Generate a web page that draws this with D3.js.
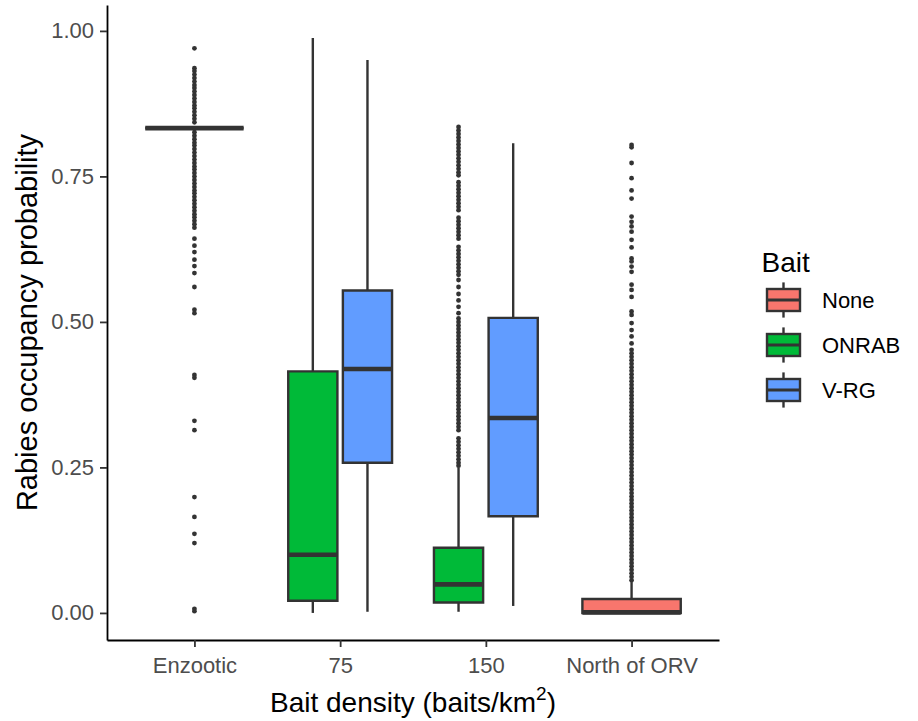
<!DOCTYPE html>
<html>
<head>
<meta charset="utf-8">
<script src="https://cdn.jsdelivr.net/npm/d3@7"></script>
<style>
  body { margin: 0; background: #fff; }
  svg { display: block; font-family: "Liberation Sans", Arial, sans-serif; }
</style>
</head>
<body>
<svg id="chart" width="918" height="721"></svg>
<script>
const categories = ['Enzootic', '75', '150', 'North of ORV'];
const baitLevels = ['None', 'ONRAB', 'V-RG'];
const baitColors = ['#F8766D', '#00BA38', '#619CFF'];
const yTicks = [0, 0.25, 0.5, 0.75, 1];

// one entry per box
const boxCategory = ['Enzootic', '75', '75', '150', '150', 'North of ORV'];
const boxBait = ['None', 'ONRAB', 'V-RG', 'ONRAB', 'V-RG', 'None'];
const whiskerLow = [0.833, 0.000, 0.002, 0.002, 0.012, 0.000];
const lowerQuartile = [0.833, 0.021, 0.258, 0.018, 0.166, 0.000];
const medianValue = [0.833, 0.100, 0.419, 0.049, 0.335, 0.001];
const upperQuartile = [0.833, 0.415, 0.554, 0.112, 0.507, 0.024];
const whiskerHigh = [0.833, 0.988, 0.950, 0.250, 0.807, 0.053];

// outliers (dense runs are where the dots merge)
const enzooticOutliers = [0.970, 0.936, 0.931, 0.925, 0.919, 0.913, 0.907, 0.902, 0.896, 0.890,
  0.884, 0.878, 0.872, 0.867, 0.861, 0.855, 0.849, 0.843,
  0.826, 0.820, 0.814, 0.808, 0.803, 0.797, 0.791, 0.785, 0.779, 0.773, 0.767, 0.762, 0.756,
  0.750, 0.744, 0.738, 0.732, 0.726, 0.721, 0.715, 0.709, 0.703, 0.697, 0.691, 0.685, 0.680,
  0.674, 0.668, 0.662, 0.643, 0.631, 0.620, 0.607, 0.596, 0.584, 0.560, 0.521, 0.515, 0.409,
  0.404, 0.330, 0.314, 0.199, 0.165, 0.136, 0.120, 0.007, 0.003];
const onrab150Outliers = [0.835, 0.829, 0.823, 0.817, 0.811, 0.805, 0.799, 0.793, 0.787, 0.781,
  0.775, 0.769, 0.763, 0.757, 0.752, 0.740, 0.734, 0.728, 0.722, 0.716, 0.710, 0.704, 0.698,
  0.692, 0.679, 0.673, 0.667, 0.661, 0.655, 0.649, 0.643, 0.629, 0.623, 0.617, 0.611, 0.605,
  0.599, 0.593, 0.587, 0.581, 0.572, 0.560, 0.548, 0.537, 0.526, 0.515, 0.506, 0.500, 0.494,
  0.488, 0.482, 0.476, 0.470, 0.464, 0.458, 0.452, 0.446, 0.440, 0.434, 0.428, 0.422, 0.416,
  0.410, 0.404, 0.398, 0.392, 0.386, 0.380, 0.374, 0.368, 0.362, 0.356, 0.350, 0.344, 0.338,
  0.332, 0.326, 0.320, 0.314, 0.300, 0.294, 0.288, 0.282, 0.276, 0.270, 0.264, 0.258, 0.253];
const northOutliers = [0.804, 0.800, 0.773, 0.747, 0.726, 0.712, 0.681, 0.672, 0.664, 0.655,
  0.641, 0.628, 0.609, 0.604, 0.595, 0.586, 0.564, 0.555, 0.543, 0.518, 0.512, 0.498, 0.486,
  0.475, 0.463, 0.452, 0.446, 0.440, 0.434, 0.428, 0.422, 0.416, 0.410, 0.404, 0.398, 0.392,
  0.386, 0.380, 0.374, 0.368, 0.362, 0.356, 0.350, 0.344, 0.338, 0.332, 0.326, 0.320, 0.314,
  0.308, 0.302, 0.296, 0.290, 0.284, 0.278, 0.272, 0.266, 0.260, 0.254, 0.248, 0.242, 0.236,
  0.230, 0.224, 0.218, 0.212, 0.206, 0.200, 0.194, 0.188, 0.182, 0.176, 0.170, 0.164, 0.158,
  0.152, 0.146, 0.140, 0.134, 0.128, 0.122, 0.116, 0.110, 0.104, 0.098, 0.092, 0.086, 0.080,
  0.074, 0.068, 0.062, 0.056];
const boxOutliers = [enzooticOutliers, [], [], onrab150Outliers, [], northOutliers];

const panelLeft = 107, panelRight = 719, panelTop = 5, panelBottom = 640;
const ink = '#333333';
const lineW = 2.4;

const svg = d3.select('#chart');

const x = d3.scalePoint().domain(categories).range([panelLeft, panelRight]).padding(0.6);
const y = d3.scaleLinear().domain([-0.0465, 1.0445]).range([panelBottom, panelTop]);
const color = d3.scaleOrdinal().domain(baitLevels).range(baitColors);

// dodge like ggplot: 0.75 of the step shared by the boxes of a category
const boxes = boxCategory.map((cat, i) => {
  const same = boxCategory.map((c, j) => c === cat ? j : -1).filter(j => j >= 0);
  const n = same.length, k = same.indexOf(i);
  const dodge = x.step() * 0.75, slot = dodge / n;
  return {
    cat, bait: boxBait[i],
    cx: x(cat) - dodge / 2 + slot * (k + 0.5),
    w: slot * 0.9,
    lo: whiskerLow[i], q1: lowerQuartile[i], med: medianValue[i], q3: upperQuartile[i], hi: whiskerHigh[i],
    out: boxOutliers[i]
  };
});

// outliers
svg.append('g')
  .selectAll('g')
  .data(boxes)
  .join('g')
  .selectAll('circle')
  .data(d => d.out.map(v => ({cx: d.cx, v})))
  .join('circle')
    .attr('cx', d => d.cx)
    .attr('cy', d => y(d.v))
    .attr('r', 2.4)
    .attr('fill', ink);

const boxG = svg.append('g').selectAll('g').data(boxes).join('g');

// whiskers
boxG.append('line')
  .attr('x1', d => d.cx).attr('x2', d => d.cx)
  .attr('y1', d => y(d.q3)).attr('y2', d => y(d.hi))
  .attr('stroke', ink).attr('stroke-width', lineW);
boxG.append('line')
  .attr('x1', d => d.cx).attr('x2', d => d.cx)
  .attr('y1', d => y(d.q1)).attr('y2', d => y(d.lo))
  .attr('stroke', ink).attr('stroke-width', lineW);

// box body (path so a zero-height box still draws)
boxG.append('path')
  .attr('d', d => `M${d.cx - d.w / 2},${y(d.q1)}H${d.cx + d.w / 2}V${y(d.q3)}H${d.cx - d.w / 2}Z`)
  .attr('fill', d => color(d.bait))
  .attr('stroke', ink)
  .attr('stroke-width', lineW);

// median
boxG.append('line')
  .attr('x1', d => d.cx - d.w / 2).attr('x2', d => d.cx + d.w / 2)
  .attr('y1', d => y(d.med)).attr('y2', d => y(d.med))
  .attr('stroke', ink).attr('stroke-width', 4.6);

// axes
const yAxis = d3.axisLeft(y).tickValues(yTicks).tickFormat(d3.format('.2f'))
  .tickSize(7).tickSizeOuter(0).tickPadding(6);
const xAxis = d3.axisBottom(x).tickSize(7).tickSizeOuter(0).tickPadding(10);

svg.append('g')
  .attr('transform', `translate(${panelLeft},0)`)
  .call(yAxis)
  .call(g => g.select('.domain').attr('stroke', '#000').attr('stroke-width', 1.8))
  .call(g => g.selectAll('.tick line').attr('stroke', ink).attr('stroke-width', 1.8))
  .call(g => g.selectAll('.tick text').attr('fill', '#4D4D4D')
    .attr('font-size', 22).attr('font-family', '"Liberation Sans", Arial, sans-serif'));

svg.append('g')
  .attr('transform', `translate(0,${panelBottom})`)
  .call(xAxis)
  .call(g => g.select('.domain').attr('stroke', '#000').attr('stroke-width', 1.8))
  .call(g => g.selectAll('.tick line').attr('stroke', ink).attr('stroke-width', 1.8))
  .call(g => g.selectAll('.tick text').attr('fill', '#4D4D4D')
    .attr('font-size', 22).attr('font-family', '"Liberation Sans", Arial, sans-serif'));

// axis titles
svg.append('text')
  .attr('transform', 'rotate(-90)')
  .attr('x', -(panelTop + panelBottom) / 2)
  .attr('y', 37)
  .attr('text-anchor', 'middle')
  .attr('font-size', 29)
  .attr('fill', '#000')
  .text('Rabies occupancy probability');

const xTitle = svg.append('text')
  .attr('x', (panelLeft + panelRight) / 2)
  .attr('y', 712)
  .attr('text-anchor', 'middle')
  .attr('font-size', 28)
  .attr('fill', '#000');
xTitle.append('tspan').text('Bait density (baits/km');
xTitle.append('tspan').attr('dy', -12).attr('font-size', 19).text('2');
xTitle.append('tspan').attr('dy', 12).text(')');

// legend
const legendLeft = 761.5, keySize = 44, keyTop = 278, keyStep = 45;
svg.append('text')
  .attr('x', legendLeft).attr('y', 272)
  .attr('font-size', 28).attr('fill', '#000')
  .text('Bait');

const key = svg.append('g').selectAll('g')
  .data(baitLevels)
  .join('g')
  .attr('transform', (d, i) => `translate(${legendLeft},${keyTop + i * keyStep})`);

key.append('line')
  .attr('x1', keySize / 2).attr('x2', keySize / 2)
  .attr('y1', keySize * 0.1).attr('y2', keySize * 0.9)
  .attr('stroke', ink).attr('stroke-width', lineW);
key.append('rect')
  .attr('x', keySize * 0.125).attr('width', keySize * 0.75)
  .attr('y', keySize * 0.25).attr('height', keySize * 0.5)
  .attr('fill', d => color(d))
  .attr('stroke', ink).attr('stroke-width', lineW);
key.append('line')
  .attr('x1', keySize * 0.125).attr('x2', keySize * 0.875)
  .attr('y1', keySize / 2).attr('y2', keySize / 2)
  .attr('stroke', ink).attr('stroke-width', 3);
key.append('text')
  .attr('x', 60.5).attr('y', keySize / 2)
  .attr('dy', '0.35em')
  .attr('font-size', 22).attr('fill', '#000')
  .text(d => d);
</script>
</body>
</html>
